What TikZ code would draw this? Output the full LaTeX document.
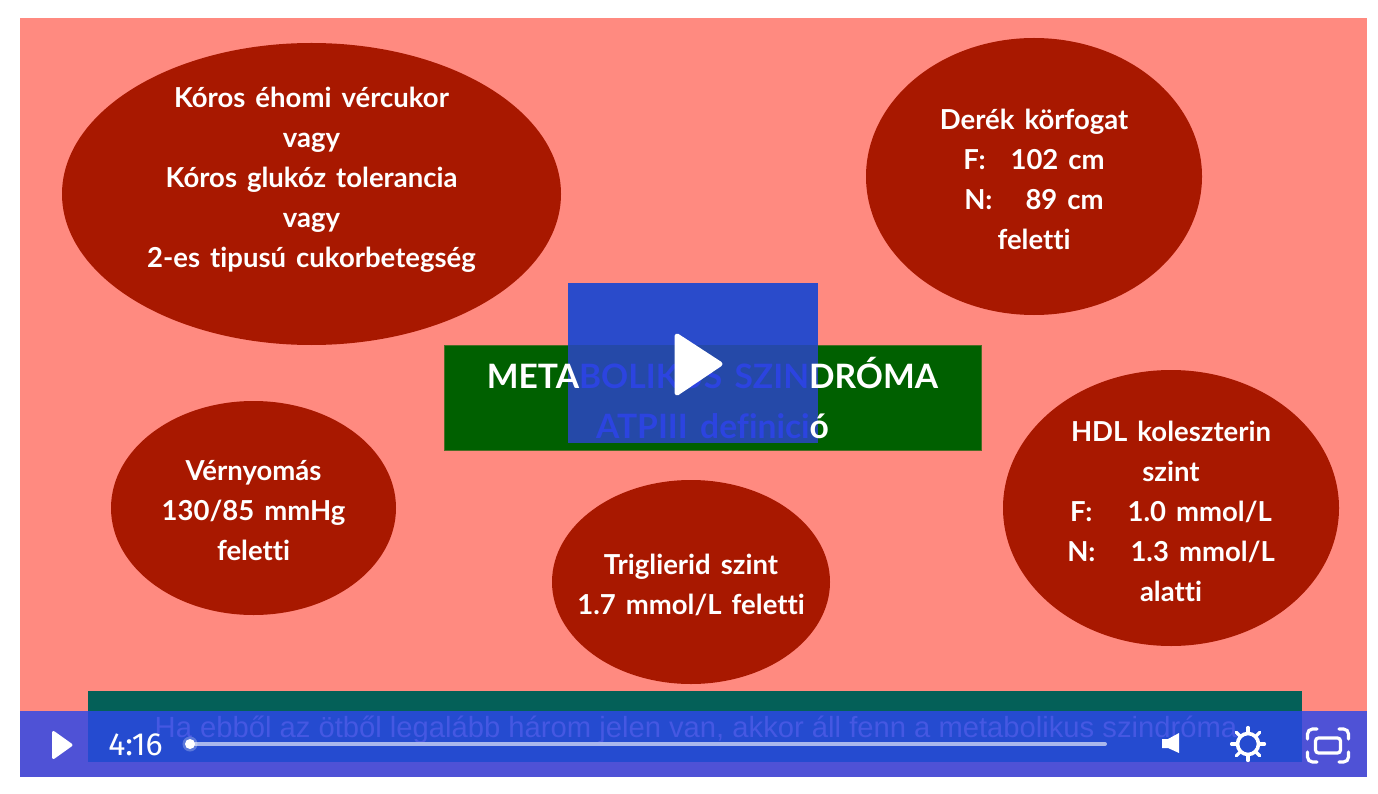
\documentclass[tikz,border=0pt]{standalone}
\usepackage{fontspec}
\setmainfont[WordSpace=1.5,Ligatures=NoCommon]{Lato}
\newfontfamily\captionfont{Liberation Sans}
\newfontfamily\timefont{Fira Sans}
\usetikzlibrary{positioning, calc, shapes.geometric}
\definecolor{slidepink}{HTML}{FF8A80}
\definecolor{blobred}{HTML}{A81800}
\definecolor{boxgreen}{HTML}{006000}
\definecolor{boxteal}{HTML}{046058}
\definecolor{barviolet}{HTML}{4F52D6}
\definecolor{barblue}{HTML}{254BD0}
\definecolor{squareblue}{HTML}{2A4BCB}
\definecolor{squaredark}{HTML}{2549A8}
\definecolor{inkblue}{HTML}{2C44E0}
\definecolor{captionblue}{HTML}{4558E2}
\definecolor{trackblue}{HTML}{A9B7EC}
\tikzset{
    blob/.style={ellipse, fill=blobred, inner sep=0pt},
    blobtext/.style={text=white, align=center, font=\fontsize{27.5}{40}\selectfont\bfseries, inner sep=0pt},
    playtip/.style={fill=white, draw=white, line join=round},
    icon/.style={draw=white, line width=3.2pt, line cap=round}
}
\begin{document}
\begin{tikzpicture}[x=1pt, y=-1pt]
    \useasboundingbox (0,0) rectangle (1378,794);
    % Slide
    \fill[slidepink] (20,18) rectangle (1367,777);

    % Ellipses
    \node[blob, minimum width=499pt, minimum height=302pt] (cukor) at (311.5,194) {};
    \node[blob, minimum width=336pt, minimum height=277pt] (derek) at (1034,176.5) {};
    \node[blob, minimum width=285pt, minimum height=214pt] (nyomas) at (253.5,508) {};
    \node[blob, minimum width=278pt, minimum height=204pt] (trigli) at (691,582) {};
    \node[blob, minimum width=336pt, minimum height=276pt] (hdl) at (1171,508) {};

    % Ellipse texts
    \node[blobtext, yshift=14.5pt] (cukortext) at (cukor) {K\'oros \'ehomi v\'ercukor\\vagy\\K\'oros gluk\'oz tolerancia\\vagy\\2-es tipus\'u cukorbetegs\'eg};
    \node[blobtext, yshift=-2.5pt] (derektext) at (derek) {Der\'ek k\"orfogat\\F:\hspace{25pt}102 cm\\N:\hspace{33pt}89 cm\\feletti};
    \node[blobtext, yshift=-3pt] (nyomastext) at (nyomas) {V\'ernyom\'as\\130/85 mmHg\\feletti};
    \node[blobtext, yshift=-3pt] (triglitext) at (trigli) {Triglierid szint\\1.7 mmol/L feletti};
    \node[blobtext, yshift=-3pt] (hdltext) at (hdl) {HDL koleszterin\\szint\\F:\hspace{35pt}1.0 mmol/L\\N:\hspace{35pt}1.3 mmol/L\\alatti};

    % Green title box and the player square over it
    \node[fill=boxgreen, draw=boxgreen!70!slidepink, minimum width=537pt, minimum height=105pt, inner sep=0pt] (titlebox) at (712.5,397.5) {};
    \fill[squareblue] (568,283) rectangle (818,443);
    \fill[squaredark] (568,345) rectangle (818,443);
    \node[text=white, align=center, font=\fontsize{33.6}{50}\selectfont\bfseries, inner sep=0pt] (title) at (712.5,398) {META\textcolor{inkblue}{BOLIKUS SZIN}DR\'OMA\\\textcolor{inkblue}{ATPIII definici}\'o};

    % Big play button
    \filldraw[playtip, line width=5pt] (677,336) -- (720,364) -- (677,393) -- cycle;

    % Teal caption box and control bar
    \node[fill=boxteal, minimum width=1214pt, minimum height=71pt, inner sep=0pt] (captionbox) at (695,726.5) {};
    \fill[barviolet] (20,711) rectangle (1367,777);
    \fill[barblue] (88,711) rectangle (1302,762);
    \node[text=captionblue, font=\captionfont\fontsize{29.2}{32}\selectfont, inner sep=0pt] (caption) at (696,730) {Ha ebb\H{o}l az \"otb\H{o}l legal\'abb h\'arom jelen van, akkor \'all fenn a metabolikus szindr\'oma};

    % Controls
    \filldraw[playtip, line width=3pt] (53.5,732.5) -- (71,745) -- (53.5,757.5) -- cycle;
    \node[text=white, font=\timefont\fontsize{32}{34}\selectfont, inner sep=0pt] (clock) at (135.5,745) {4:16};
    \coordinate (trackstart) at (190,744);
    \coordinate (trackend) at (1105,744);
    \draw[trackblue, line width=4pt, line cap=round] (trackstart) -- (trackend);
    \fill[white, opacity=0.25] (trackstart) circle (7.5pt);
    \fill[white] (trackstart) circle (5pt);

    % Speaker
    \fill[white] (1162,739) -- (1168,739) -- (1179,733) -- (1179,753) -- (1168,748) -- (1162,748) -- cycle;

    % Gear
    \coordinate (gear) at (1248,744);
    \draw[white, line width=3.6pt] (gear) circle (10.5pt);
    \foreach \a in {0,45,...,315}
        \draw[icon] ($(gear)+(\a:11.5pt)$) -- ($(gear)+(\a:16.5pt)$);

    % Fullscreen
    \draw[icon, rounded corners=3pt] (1315.5,738) rectangle (1340.5,753);
    \draw[icon, rounded corners=5pt] (1307.5,739) -- (1307.5,729) -- (1317,729);
    \draw[icon, rounded corners=5pt] (1339,729) -- (1348.5,729) -- (1348.5,739);
    \draw[icon, rounded corners=5pt] (1348.5,752) -- (1348.5,762) -- (1339,762);
    \draw[icon, rounded corners=5pt] (1317,762) -- (1307.5,762) -- (1307.5,752);
\end{tikzpicture}
\end{document}
